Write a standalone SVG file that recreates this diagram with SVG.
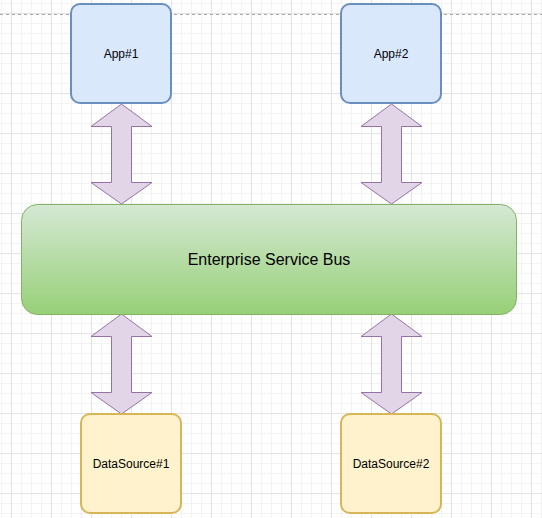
<svg xmlns="http://www.w3.org/2000/svg" width="542" height="518" viewBox="0 0 542 518">
  <defs>
    <pattern id="grid" x="11" y="13" width="40" height="40" patternUnits="userSpaceOnUse">
      <path d="M10.5 0V40M20.5 0V40M30.5 0V40M0 10.5H40M0 20.5H40M0 30.5H40" stroke="#f3f3f3" stroke-width="1" fill="none"/>
      <path d="M0.5 0V40M0 0.5H40" stroke="#e3e3e3" stroke-width="1" fill="none"/>
    </pattern>
    <linearGradient id="esbGrad" x1="0" y1="0" x2="0" y2="1">
      <stop offset="0" stop-color="#d5e8d4"/>
      <stop offset="1" stop-color="#97d077"/>
    </linearGradient>
    <path id="dblArrow" d="M0 0 L30.5 22.5 L10 22.5 L10 78.5 L30.5 78.5 L0 100 L-30.5 78.5 L-10 78.5 L-10 22.5 L-30.5 22.5 Z"/>
  </defs>
  <style>
    .app { fill: #dae8fc; stroke: #6c8ebf; stroke-width: 2; }
    .ds { fill: #fff2cc; stroke: #d6b656; stroke-width: 2; }
    .esb { fill: url(#esbGrad); stroke: #82b366; stroke-width: 1; }
    .arrow { fill: #e1d5e7; stroke: #9673a6; stroke-width: 1; }
    .lbl { font-family: "Liberation Sans", Arial, sans-serif; font-size: 12px; fill: #000000; text-anchor: middle; }
    .big { font-size: 16px; }
  </style>
  <rect x="0" y="0" width="542" height="518" fill="#ffffff"/>
  <rect x="0" y="0" width="542" height="518" fill="url(#grid)"/>
  <line x1="0" y1="14.5" x2="542" y2="14.5" stroke="#a8a8a8" stroke-width="1" stroke-dasharray="3 3"/>

  <g id="connectors">
    <use href="#dblArrow" class="arrow" x="121.5" y="104"/>
    <use href="#dblArrow" class="arrow" x="391.5" y="104"/>
    <use href="#dblArrow" class="arrow" x="121.5" y="314"/>
    <use href="#dblArrow" class="arrow" x="391.5" y="314"/>
  </g>

  <g id="app1">
    <rect class="app" x="71" y="4" width="100" height="99" rx="9"/>
    <text class="lbl" x="121" y="58">App#1</text>
  </g>
  <g id="app2">
    <rect class="app" x="341" y="4" width="100" height="99" rx="9"/>
    <text class="lbl" x="391" y="58">App#2</text>
  </g>
  <g id="esb">
    <rect class="esb" x="21.5" y="204.5" width="495" height="110" rx="16"/>
    <text class="lbl big" x="269" y="265">Enterprise Service Bus</text>
  </g>
  <g id="ds1">
    <rect class="ds" x="81" y="414" width="100" height="99" rx="9"/>
    <text class="lbl" x="131" y="468">DataSource#1</text>
  </g>
  <g id="ds2">
    <rect class="ds" x="341" y="414" width="100" height="99" rx="9"/>
    <text class="lbl" x="391" y="468">DataSource#2</text>
  </g>
</svg>
